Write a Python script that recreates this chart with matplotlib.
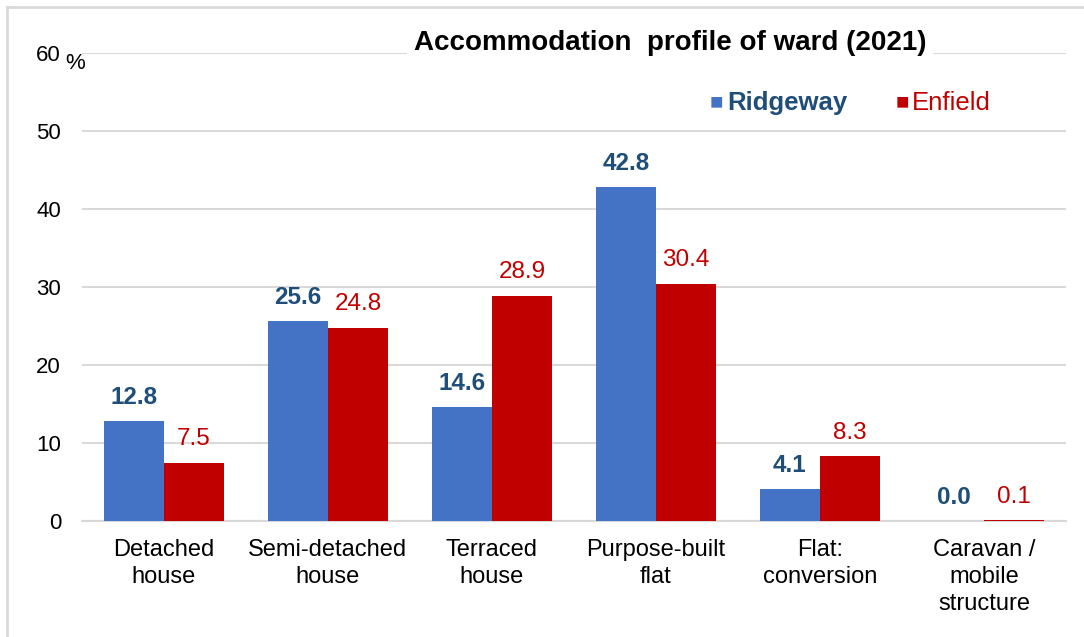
import matplotlib
matplotlib.use("Agg")
import matplotlib.pyplot as plt
import numpy as np
from matplotlib.lines import Line2D

plt.rcParams['font.family'] = ['Liberation Sans', 'DejaVu Sans']

categories = ["Detached\nhouse", "Semi-detached\nhouse", "Terraced\nhouse",
              "Purpose-built\nflat", "Flat:\nconversion", "Caravan /\nmobile\nstructure"]
ridgeway = [12.8, 25.6, 14.6, 42.8, 4.1, 0.0]
enfield = [7.5, 24.8, 28.9, 30.4, 8.3, 0.1]
yticks = [0, 10, 20, 30, 40, 50, 60]

blue = "#4472C4"
red = "#C00000"
blue_txt = "#1F4E79"
grid_col = "#D9D9D9"

fig = plt.figure(figsize=(10.84, 6.37), dpi=100)
ax = fig.add_axes([0.0756, 0.1821, 0.9077, 0.7347])

x = np.arange(len(categories))
w = 0.366
b1 = ax.bar(x - w / 2, ridgeway, w, color=blue, zorder=3)
b2 = ax.bar(x + w / 2, enfield, w, color=red, zorder=3)

# data labels
for rect, v in zip(b1, ridgeway):
    ax.annotate(f"{v:.1f}", (rect.get_x() + rect.get_width() / 2, v),
                xytext=(0, 17), textcoords="offset points", ha="center", va="center",
                fontsize=17.5, fontweight="bold", color=blue_txt)
for rect, v in zip(b2, enfield):
    ax.annotate(f"{v:.1f}", (rect.get_x() + rect.get_width() / 2, v),
                xytext=(0, 17), textcoords="offset points", ha="center", va="center",
                fontsize=17.5, color=red)

ax.set_xlim(-0.5, len(categories) - 0.5)
ax.set_ylim(0, 60)
ax.set_yticks(yticks)
ax.set_xticks(x)
ax.set_xticklabels(categories, fontsize=17, linespacing=1.3)
ax.tick_params(axis="y", length=0, pad=15, labelsize=16)
ax.tick_params(axis="x", length=0, pad=13)
ax.yaxis.grid(True, color=grid_col, linewidth=1.5, zorder=0)
for s in ["top", "right", "left"]:
    ax.spines[s].set_visible(False)
ax.spines["bottom"].set_color(grid_col)
ax.spines["bottom"].set_linewidth(1.5)

# "%" next to the top tick
ax.text(-0.6, 60.0, "%", fontsize=16, ha="left", va="top")

# title with white box over the top gridline
fig.text(0.618, 0.932, "Accommodation  profile of ward (2021)", ha="center", va="center",
         fontsize=20, fontweight="bold",
         bbox=dict(facecolor="white", edgecolor="none", pad=5))

# legend
fig.text(0.655, 0.838, "\u25A0", color=blue, fontsize=16, ha="left", va="center")
fig.text(0.671, 0.838, "Ridgeway", color=blue_txt, fontsize=18.5, fontweight="bold",
         ha="left", va="center")
fig.text(0.826, 0.838, "\u25A0", color=red, fontsize=16, ha="left", va="center")
fig.text(0.841, 0.838, "Enfield", color=red, fontsize=18.5, ha="left", va="center")

# outer frame (only top and left edges visible)
fig.lines.append(Line2D([0.006, 1.0], [0.989, 0.989], transform=fig.transFigure,
                        color=grid_col, linewidth=2))
fig.lines.append(Line2D([0.006, 0.006], [0.0, 0.989], transform=fig.transFigure,
                        color=grid_col, linewidth=2))

fig.savefig("out.png", dpi=100)
